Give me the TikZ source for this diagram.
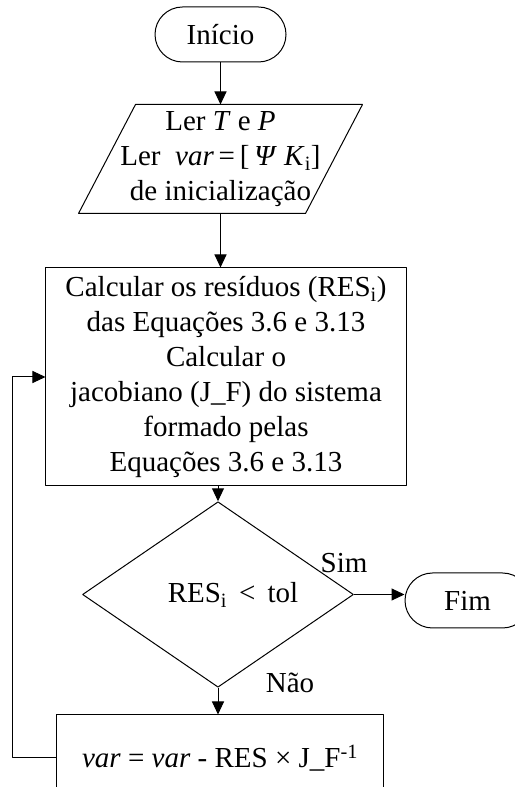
\documentclass[tikz,border=0pt]{standalone}
\usepackage{fontspec}
\setmainfont{Liberation Serif}
\usepackage{tikz}
\usetikzlibrary{arrows.meta, shapes.geometric, shapes.misc, positioning, calc}

\tikzset{
  texto/.style={font=\fontsize{29bp}{35bp}\selectfont, align=center, inner sep=0pt},
  terminal/.style={texto, draw, rounded rectangle},
  entrada/.style={texto, rectangle},
  processo/.style={texto, draw, rectangle},
  decisao/.style={texto, draw, diamond},
}

\begin{document}
\begin{tikzpicture}[>={Triangle[length=13bp,width=12bp]},line join=bevel,x=1bp,y=1bp]
  \pgfsetlinewidth{1bp}
  \useasboundingbox (0,0) rectangle (515,787);
%%
  % Node: inicio
  \node[terminal, minimum width=131bp, minimum height=55bp] (inicio) at (220.5,752.5) {Início};
  % Node: ler
  \node[entrada, minimum width=226bp, minimum height=108bp] (ler) at (220.5,628)
    {Ler \textit{T} e \textit{P}\\ Ler\ \ \textit{var}\,=\,[\,\textit{Ψ}\ \textit{K}\textsubscript{i}]\\ de inicialização};
  \draw ($(ler.north west)+(28.5,0)$) -- ($(ler.north east)+(28.5,0)$)
     -- ($(ler.south east)+(-28.5,0)$) -- ($(ler.south west)+(-28.5,0)$) -- cycle;
  % Node: calc
  \node[processo, minimum width=360bp, minimum height=218bp] (calc) at (226,410)
    {Calcular os resíduos (RES\textsubscript{i})\\ das Equações 3.6 e 3.13\\ Calcular o \\
     jacobiano (J\_F) do sistema\\ formado pelas\\ Equações 3.6 e 3.13};
  % Node: teste
  \node[decisao, minimum width=271bp, minimum height=131bp] (teste) at (218,192.5)
    {\hspace*{30bp}RES\textsubscript{i}\ \,<\ \,tol};
  % Node: fim
  \node[terminal, minimum width=125bp, minimum height=55bp] (fim) at (467.5,186.5) {Fim};
  % Node: atualiza
  \node[processo, minimum width=326bp, minimum height=86bp] (atualiza) at (220,29)
    {\textit{var} = \textit{var} - RES × J\_F\textsuperscript{-1}};
%
  % Edge: inicio -- ler
  \draw[->] (inicio.south) -- (ler.north);
  % Edge: ler -- calc
  \draw[->] (ler.south) -- (ler.south |- calc.north);
  % Edge: calc -- teste
  \draw[->] (calc.south -| teste.north) -- (teste.north);
  % Edge: teste -- fim
  \draw[->] (teste.east) -- (teste.east -| fim.west);
  \node[texto] (sim) at (344,224) {Sim};
  % Edge: teste -- atualiza
  \draw[->] (teste.south) -- (teste.south |- atualiza.north);
  \node[texto] (nao) at (290,104) {Não};
  % Edge: atualiza -- calc
  \draw[->] (atualiza.west) -- ++(-44,0) |- (calc.west);
%
\end{tikzpicture}
\end{document}
